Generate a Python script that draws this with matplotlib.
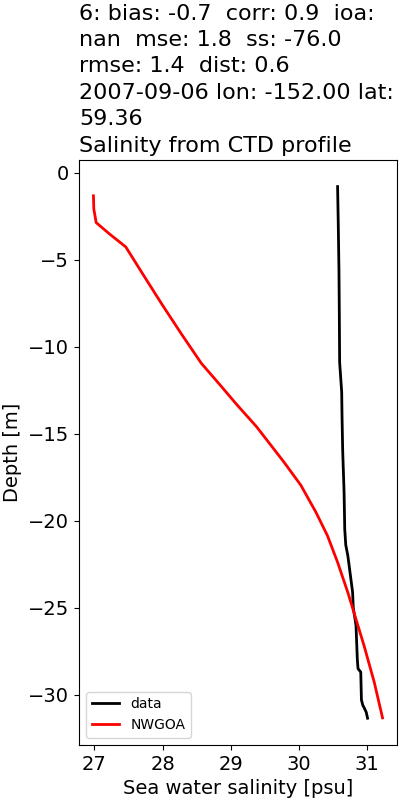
"""
Salinity profile: CTD data vs NWGOA model
"""
import matplotlib
matplotlib.use('Agg')
import matplotlib.pyplot as plt

# CTD observations
data_depth = [-0.8, -3.0, -5.6, -8.0, -10.9, -12.6, -14.0, -16.0, -18.35, -20.5,
              -21.4, -22.0, -22.6, -23.2, -24.1, -25.0, -26.0, -27.0, -28.0,
              -28.5, -28.7, -29.5, -30.3, -30.6, -30.75, -31.0, -31.35]
data_sal = [30.57, 30.58, 30.59, 30.595, 30.60, 30.63, 30.635, 30.645, 30.665, 30.675,
            30.69, 30.72, 30.74, 30.76, 30.79, 30.80, 30.84, 30.85, 30.86,
            30.87, 30.91, 30.915, 30.92, 30.94, 30.96, 30.99, 31.01]

# model profile
model_depth = [-1.33, -2.08, -2.87, -3.52, -4.27, -5.83, -7.56, -9.29, -10.96,
               -12.18, -12.87, -13.33, -14.6, -16.62, -17.96, -19.5, -20.85,
               -22.39, -24.12, -25.66, -27.2, -29.31, -31.33]
model_sal = [26.985, 26.99, 27.025, 27.22, 27.46, 27.71, 27.99, 28.28, 28.57,
             28.84, 28.99, 29.09, 29.38, 29.78, 30.03, 30.25, 30.42,
             30.57, 30.72, 30.84, 30.96, 31.11, 31.23]

title = ("6: bias: -0.7  corr: 0.9  ioa:\n"
         "nan  mse: 1.8  ss: -76.0\n"
         "rmse: 1.4  dist: 0.6\n"
         "2007-09-06 lon: -152.00 lat:\n"
         "59.36\n"
         "Salinity from CTD profile")

fig = plt.figure(figsize=(4, 8), dpi=100)
ax = fig.add_subplot(111)
fig.subplots_adjust(left=0.1975, right=0.9925, bottom=0.069, top=0.8)

ax.plot(data_sal, data_depth, color='k', lw=2, label='data')
ax.plot(model_sal, model_depth, color='red', lw=2, label='NWGOA')

ax.set_title(title, loc='left', fontsize=16, linespacing=1.4)
ax.set_xlabel('Sea water salinity [psu]', fontsize=14)
ax.set_ylabel('Depth [m]', fontsize=14)
ax.tick_params(labelsize=14)
ax.legend(loc='lower left', fontsize=10)

plt.savefig('out.png', dpi=100)
